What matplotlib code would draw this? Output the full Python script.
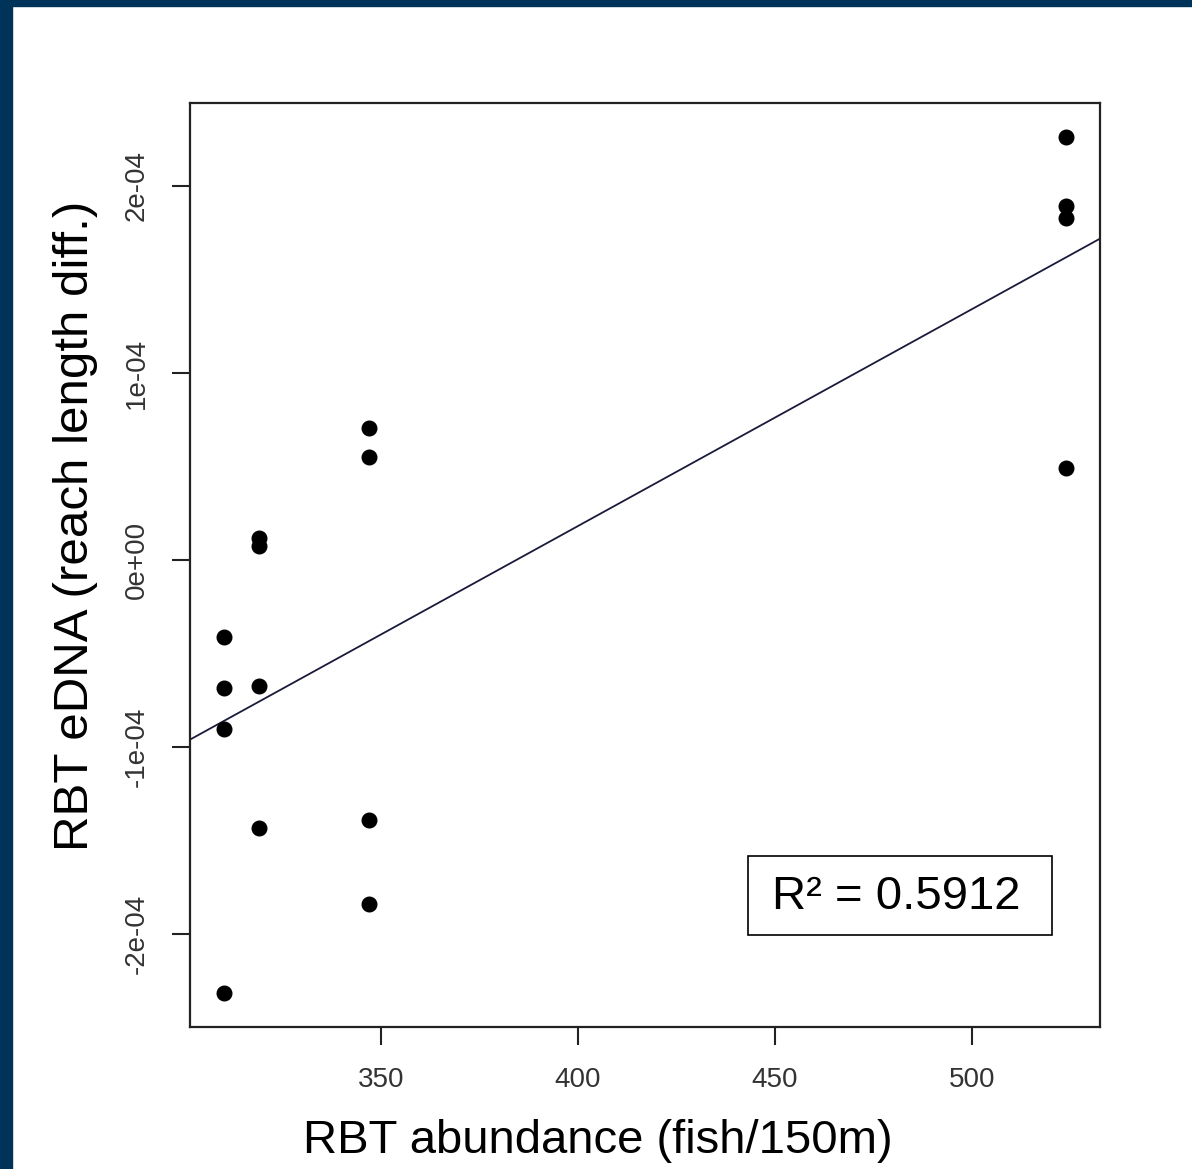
import numpy as np
import matplotlib
matplotlib.use("Agg")
import matplotlib.pyplot as plt
from matplotlib.patches import Rectangle

# Data
abundance = [310, 310, 310, 310,
             319, 319, 319, 319,
             347, 347, 347, 347,
             524, 524, 524, 524]
edna = [-0.41e-4, -0.685e-4, -0.905e-4, -2.313e-4,
        0.118e-4, 0.075e-4, -0.675e-4, -1.43e-4,
        0.707e-4, 0.552e-4, -1.387e-4, -1.837e-4,
        2.26e-4, 1.89e-4, 1.826e-4, 0.493e-4]
x_ticks = [350, 400, 450, 500]
y_ticks = [-2e-4, -1e-4, 0, 1e-4, 2e-4]
y_tick_labels = ["-2e-04", "-1e-04", "0e+00", "1e-04", "2e-04"]
r2_text = "R\u00b2 = 0.5912"

plt.rcParams['font.family'] = ['Liberation Sans', 'DejaVu Sans']

fig = plt.figure(figsize=(11.92, 11.69), dpi=100)
fig.patch.set_facecolor('white')
navy = '#003359'
fig.patches.append(Rectangle((0, 0), 12/1192, 1, transform=fig.transFigure, color=navy, zorder=-10))
fig.patches.append(Rectangle((0, 1-6/1169), 1, 6/1169, transform=fig.transFigure, color=navy, zorder=-10))

ax = fig.add_axes([190/1192, 1-1027/1169, 910/1192, 924/1169])

x = np.array(abundance, dtype=float)
y = np.array(edna, dtype=float)
ax.plot(x, y, 'o', color='black', ms=10.5, zorder=3)

xr = x.max() - x.min()
yr = y.max() - y.min()
xlim = (x.min() - 0.04*xr, x.max() + 0.04*xr)
ylim = (y.min() - 0.04*yr, y.max() + 0.04*yr)
b, a = np.polyfit(x, y, 1)
xl = np.array(xlim)
ax.plot(xl, a + b*xl, color='#1a1a3a', lw=1.3, zorder=2)
ax.set_xlim(xlim)
ax.set_ylim(ylim)

ax.set_xticks(x_ticks)
ax.set_xticklabels([str(t) for t in x_ticks])
ax.set_yticks(y_ticks)
ax.set_yticklabels(y_tick_labels, rotation=90, va='center')
ax.tick_params(axis='both', direction='out', length=13, width=1.5,
               labelsize=20, labelcolor='#333333', color='#222222')
ax.tick_params(axis='x', pad=16)
ax.tick_params(axis='y', pad=16)
for s in ax.spines.values():
    s.set_linewidth(1.6)
    s.set_color('#222222')

fig.text(598/1192, 1-1141/1169, "RBT abundance (fish/150m)", fontsize=34,
         ha='center', va='center', color='black')
fig.text(75/1192, 1-526/1169, "RBT eDNA (reach length diff.)", fontsize=35.5,
         rotation=90, ha='center', va='center', color='black')

# R^2 annotation box
ax.add_patch(Rectangle(((748-190)/910, (1027-935)/924), 304/910, 79/924,
                       transform=ax.transAxes, fc='white', ec='black', lw=1.2, zorder=4))
ax.text((896-190)/910, (1027-897)/924, r2_text, transform=ax.transAxes, fontsize=34,
        ha='center', va='center', color='black', zorder=5)

fig.savefig('out.png', dpi=100, facecolor=fig.get_facecolor())
